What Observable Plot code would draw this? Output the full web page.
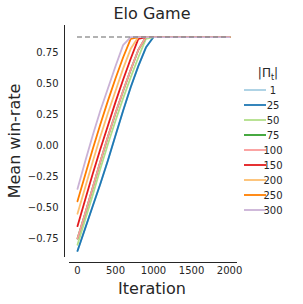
<!DOCTYPE html>
<html><head><meta charset="utf-8">
<script src="https://cdn.jsdelivr.net/npm/d3@7"></script>
<script src="https://cdn.jsdelivr.net/npm/@observablehq/plot@0.6"></script>
<style>body{margin:0;background:#fff;} svg{font-family:"DejaVu Sans",sans-serif;}</style>
</head><body><div id="chart"></div>
<script>
const iterations = [0,100,200,300,400,500,600,700,800,900,1000,1500,2000];
const seriesNames = ["1","25","50","75","100","150","200","250","300"];
const colors = ["#a6cee3","#1f78b4","#b2df8a","#33a02c","#fb9a99","#e31a1c","#fdbf6f","#ff7f00","#cab2d6"];
const s1   = [-0.85,-0.67,-0.49,-0.31,-0.12,0.08,0.28,0.47,0.64,0.79,0.875,0.875,0.875];
const s25  = [-0.85,-0.67,-0.49,-0.31,-0.12,0.08,0.28,0.47,0.64,0.79,0.875,0.875,0.875];
const s50  = [-0.80,-0.60,-0.40,-0.19,0.01,0.20,0.38,0.55,0.71,0.86,0.875,0.875,0.875];
const s75  = [-0.75,-0.55,-0.34,-0.13,0.07,0.26,0.44,0.61,0.77,0.875,0.875,0.875,0.875];
const s100 = [-0.75,-0.55,-0.34,-0.13,0.07,0.26,0.44,0.61,0.77,0.875,0.875,0.875,0.875];
const s150 = [-0.65,-0.44,-0.23,-0.03,0.16,0.35,0.53,0.70,0.86,0.875,0.875,0.875,0.875];
const s200 = [-0.55,-0.34,-0.13,0.07,0.26,0.44,0.62,0.78,0.875,0.875,0.875,0.875,0.875];
const s250 = [-0.45,-0.24,-0.03,0.17,0.36,0.54,0.71,0.86,0.875,0.875,0.875,0.875,0.875];
const s300 = [-0.35,-0.13,0.08,0.28,0.46,0.64,0.81,0.875,0.875,0.875,0.875,0.875,0.875];
const optimum = 0.875;
const xTicks = [0,500,1000,1500,2000];
const yTicks = [-0.75,-0.5,-0.25,0,0.25,0.5,0.75];

const allSeries = [s1,s25,s50,s75,s100,s150,s200,s250,s300];
const rows = [];
seriesNames.forEach((n,i)=>iterations.forEach((it,j)=>rows.push({series:n, it, v:allSeries[i][j]})));

const xDom=[-105,2105], yDom=[-0.903,0.968];
const plot = Plot.plot({
  width:303, height:304,
  marginLeft:69, marginRight:66, marginTop:25, marginBottom:47,
  style:{fontFamily:"DejaVu Sans, sans-serif", fontSize:"10px", color:"#262626", background:"#fff"},
  x:{domain:xDom, ticks:xTicks},
  y:{domain:yDom, ticks:yTicks},
  color:{domain:seriesNames, range:colors},
  marks:[
    Plot.ruleX([xDom[0]], {y1:yDom[0], y2:yDom[1], dx:-5, stroke:"#262626", strokeWidth:1}),
    Plot.ruleY([yDom[0]], {x1:xDom[0], x2:xDom[1], dy:5, stroke:"#262626", strokeWidth:1}),
    Plot.axisY(yTicks, {tickSize:0, tickPadding:6, dx:-5, tickFormat:d3.format(".2f"), label:null, fontSize:10}),
    Plot.axisX(xTicks, {tickSize:0, tickPadding:4, dy:5, tickFormat:d3.format("d"), label:null, fontSize:10}),
    Plot.line(rows, {x:"it", y:"v", z:"series", stroke:"series", strokeWidth:1.8}),
    Plot.ruleY([optimum], {x1:0, x2:2000, stroke:"#808080", strokeOpacity:0.8, strokeWidth:1.6, strokeDasharray:"5,3"})
  ]
});
document.getElementById("chart").appendChild(plot);
const svg = d3.select(plot);
svg.append("text").attr("x",152).attr("y",19).attr("text-anchor","middle").attr("font-size",16).attr("fill","#262626").text("Elo Game");
svg.append("text").attr("transform","translate(20,141) rotate(-90)").attr("text-anchor","middle").attr("font-size",16).attr("fill","#262626").text("Mean win-rate");
svg.append("text").attr("x",152).attr("y",294).attr("text-anchor","middle").attr("font-size",16).attr("fill","#262626").text("Iteration");
const lt = svg.append("text").attr("x",268).attr("y",77).attr("text-anchor","middle").attr("font-size",12).attr("fill","#262626");
lt.append("tspan").text("|Π");
lt.append("tspan").attr("font-size",8).attr("dy",3).text("t");
lt.append("tspan").attr("dy",-3).text("|");
seriesNames.forEach((n,i)=>{
  const y = 90 + i*15;
  svg.append("line").attr("x1",244).attr("x2",266).attr("y1",y).attr("y2",y).attr("stroke",colors[i]).attr("stroke-width",1.8);
  svg.append("text").attr("x",273).attr("y",y+3.5).attr("font-size",10).attr("fill","#262626").text(n);
});
</script></body></html>
